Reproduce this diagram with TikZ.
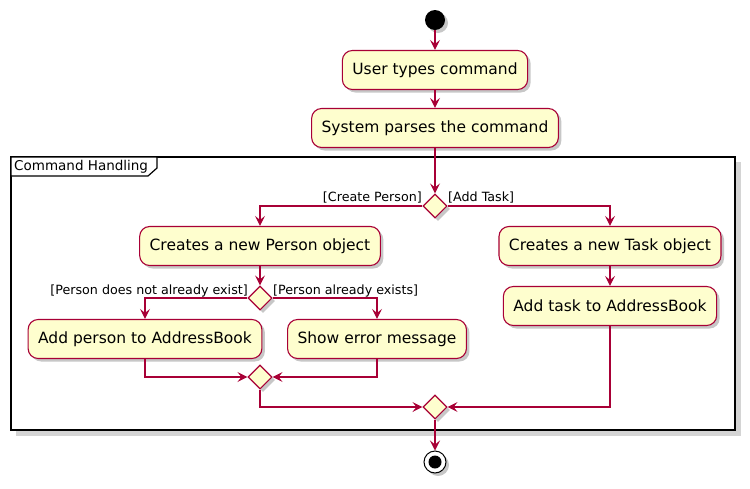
\documentclass[tikz,border=0pt]{standalone}
\usepackage{fontspec}
\setmainfont{DejaVu Sans}
\usetikzlibrary{arrows.meta,shapes.geometric,shadows,calc}
\definecolor{pfill}{HTML}{FEFECE}
\definecolor{pline}{HTML}{A80036}
\tikzset{
  shad/.style={drop shadow={shadow xshift=3pt,shadow yshift=-3pt,fill=black!22,opacity=1}},
  act/.style={draw=pline,fill=pfill,line width=1.1pt,rounded corners=10pt,minimum height=39pt,inner xsep=10pt,inner ysep=0pt,font=\fontsize{15.5}{18}\selectfont,shad},
  dec/.style={diamond,draw=pline,fill=pfill,line width=1.1pt,minimum width=24pt,minimum height=24pt,inner sep=0pt,shad},
  guard/.style={inner sep=0pt,font=\fontsize{12.7}{15}\selectfont},
  flow/.style={draw=pline,line width=1.1pt,-{Stealth[length=10pt,width=10pt,inset=4pt]}},
  line/.style={draw=pline,line width=1.1pt}
}
\begin{document}
\begin{tikzpicture}[x=1pt,y=-1pt]
\useasboundingbox (0,0) rectangle (750,488);
% frame
\fill[black!17] (16,162) rectangle (741,436);
\draw[black,line width=1.2pt,fill=white] (11,157) rectangle (735,430);
\draw[black,line width=1.2pt,fill=white] (11,157) -- (157,157) -- (157,168) -- (148,176) -- (11,176) -- cycle;
\node[anchor=west,inner sep=0pt,font=\fontsize{13.5}{16}\selectfont] (frm) at (14,166.5) {Command Handling};
% nodes
\node[circle,fill=black,minimum size=20pt,inner sep=0pt,shad] (start) at (435,20) {};
\node[act] (u) at (435,70) {User types command};
\node[act] (s) at (435,128) {System parses the command};
\node[dec] (d1) at (435,206) {};
\node[act] (cp) at (260,246) {Creates a new Person object};
\node[act] (ct) at (610,246) {Creates a new Task object};
\node[act] (at) at (610,306) {Add task to AddressBook};
\node[dec] (d2) at (260,298) {};
\node[act] (ap) at (145,339) {Add person to AddressBook};
\node[act] (se) at (377,339) {Show error message};
\node[dec] (m1) at (260,377) {};
\node[dec] (m2) at (435,407) {};
\node[circle,draw=black,fill=white,line width=1pt,minimum size=22pt,inner sep=0pt,shad] (end) at (435,462) {};
\node[circle,fill=black,minimum size=13pt,inner sep=0pt] (endin) at (end.center) {};
% guards
\node[guard,anchor=east] (g1) at (422,197.5) {[Create Person]};
\node[guard,anchor=west] (g2) at (448,197.5) {[Add Task]};
\node[guard,anchor=east] (g3) at (248,290.5) {[Person does not already exist]};
\node[guard,anchor=west] (g4) at (273,290.5) {[Person already exists]};
% connectors
\draw[flow] (start) -- (u);
\draw[flow] (u) -- (s);
\draw[flow] (s) -- (d1);
\draw[flow] (d1.west) -| (cp.north);
\draw[flow] (d1.east) -| (ct.north);
\draw[flow] (cp) -- (d2);
\draw[flow] (ct) -- (at);
\draw[flow] (d2.west) -| (ap.north);
\draw[flow] (d2.east) -| (se.north);
\draw[flow] (ap.south) |- (m1.west);
\draw[flow] (se.south) |- (m1.east);
\draw[flow] (m1.south) |- (m2.west);
\draw[flow] (at.south) |- (m2.east);
\draw[flow] (m2) -- (end);
\end{tikzpicture}
\end{document}
